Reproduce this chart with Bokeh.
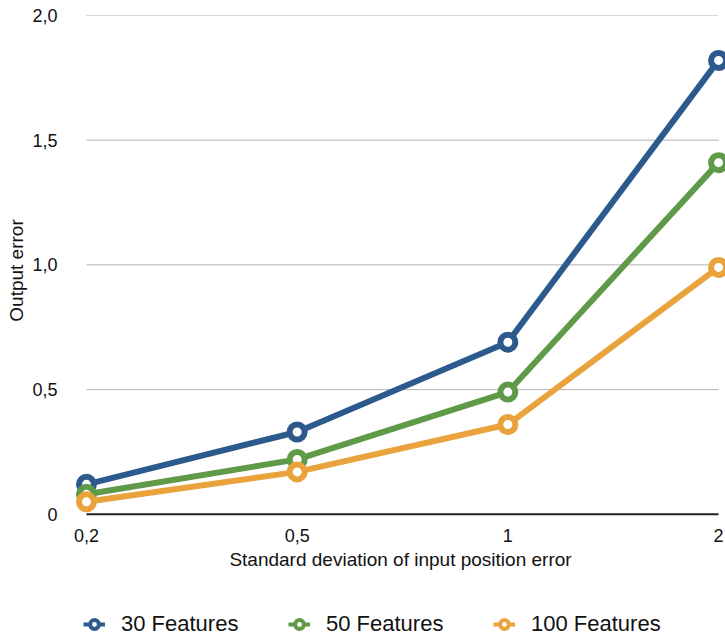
from bokeh.plotting import figure
from bokeh.models import Range1d, FixedTicker, Legend, LegendItem, ColumnDataSource
from bokeh.layouts import column
from bokeh.embed import file_html
from bokeh.resources import INLINE

categories = ["0,2", "0,5", "1", "2"]
series_names = ["30 Features", "50 Features", "100 Features"]
values_30 = [0.12, 0.33, 0.69, 1.82]
values_50 = [0.08, 0.22, 0.49, 1.41]
values_100 = [0.05, 0.17, 0.36, 0.99]
colors = ["#2d5a8c", "#5f9a48", "#eaa33c"]
y_ticks = [0, 0.5, 1.0, 1.5, 2.0]
y_tick_labels = ["0", "0,5", "1,0", "1,5", "2,0"]

FONT = "Liberation Sans"
TEXT = "#111111"

n = len(categories)
xs = list(range(n))
all_values = [values_30, values_50, values_100]

p = figure(width=725, height=595, output_backend="svg", toolbar_location=None,
           x_range=Range1d(-0.052, n - 1 + 0.033), y_range=Range1d(-0.045, 2.0),
           min_border_left=75, min_border_right=0, min_border_top=15, min_border_bottom=70)
p.outline_line_color = None
p.background_fill_color = "white"
p.border_fill_color = "white"
p.xgrid.grid_line_color = None
p.ygrid.grid_line_color = None

# horizontal grid lines spanning the category extent
grid_src = ColumnDataSource(dict(x0=[0] * (len(y_ticks) - 1), x1=[n - 1] * (len(y_ticks) - 1),
                                 y=y_ticks[1:]))
p.segment(x0="x0", y0="y", x1="x1", y1="y", source=grid_src, line_color="#b4b4b4", line_width=1)
# baseline at zero
base_src = ColumnDataSource(dict(x0=[0], x1=[n - 1], y=[y_ticks[0]]))
p.segment(x0="x0", y0="y", x1="x1", y1="y", source=base_src, line_color="#222222", line_width=2)

for name, vals, col in zip(series_names, all_values, colors):
    src = ColumnDataSource(dict(x=xs, y=vals))
    p.line("x", "y", source=src, line_color=col, line_width=6)
    p.scatter("x", "y", source=src, size=15, fill_color="white", line_color=col, line_width=6)

# axes
p.xaxis.ticker = FixedTicker(ticks=xs)
p.xaxis.major_label_overrides = {i: c for i, c in enumerate(categories)}
p.xaxis.axis_label = "Standard deviation of input position error"
p.xaxis.axis_line_color = None
p.xaxis.major_tick_line_color = None
p.xaxis.minor_tick_line_color = None
p.xaxis.major_label_standoff = -3
p.xaxis.axis_label_standoff = 4
p.xaxis.major_label_text_font = FONT
p.xaxis.major_label_text_font_size = "18px"
p.xaxis.major_label_text_color = TEXT
p.xaxis.axis_label_text_font = FONT
p.xaxis.axis_label_text_font_size = "19px"
p.xaxis.axis_label_text_font_style = "normal"
p.xaxis.axis_label_text_color = TEXT

p.yaxis.ticker = FixedTicker(ticks=y_ticks)
p.yaxis.major_label_overrides = {t: l for t, l in zip(y_ticks, y_tick_labels)}
p.yaxis.axis_label = "Output error"
p.yaxis.axis_line_color = None
p.yaxis.major_tick_line_color = None
p.yaxis.minor_tick_line_color = None
p.yaxis.major_label_standoff = 12
p.yaxis.axis_label_standoff = 2
p.yaxis.major_label_text_font = FONT
p.yaxis.major_label_text_font_size = "18px"
p.yaxis.major_label_text_color = TEXT
p.yaxis.axis_label_text_font = FONT
p.yaxis.axis_label_text_font_size = "19px"
p.yaxis.axis_label_text_font_style = "normal"
p.yaxis.axis_label_text_color = TEXT

# legend strip below the chart; its glyph renderers hold the series data
# but the strip's y-range lies outside the data, so only the legend shows
lf = figure(width=725, height=44, output_backend="svg", toolbar_location=None,
            x_axis_type=None, y_axis_type=None,
            x_range=Range1d(0, 1), y_range=Range1d(-2, -1),
            min_border_left=0, min_border_right=0, min_border_top=0, min_border_bottom=0)
lf.outline_line_color = None
lf.xgrid.grid_line_color = None
lf.ygrid.grid_line_color = None
legend_items = []
for name, vals, col in zip(series_names, all_values, colors):
    src = ColumnDataSource(dict(x=xs, y=vals))
    l = lf.line("x", "y", source=src, line_color=col, line_width=4)
    s = lf.scatter("x", "y", source=src, size=10, fill_color="white", line_color=col, line_width=4)
    legend_items.append(LegendItem(label=name, renderers=[l, s], index=0))

legend = Legend(items=legend_items, orientation="horizontal", location=(8, 2),
                glyph_width=22, glyph_height=26, label_standoff=16, label_width=164,
                spacing=3, padding=0, margin=0,
                border_line_alpha=0, background_fill_alpha=0,
                label_text_font=FONT, label_text_font_size="22px", label_text_color=TEXT)
lf.add_layout(legend, "center")

layout = column(p, lf, spacing=0)
open("out.html", "w").write(file_html(layout, INLINE))
